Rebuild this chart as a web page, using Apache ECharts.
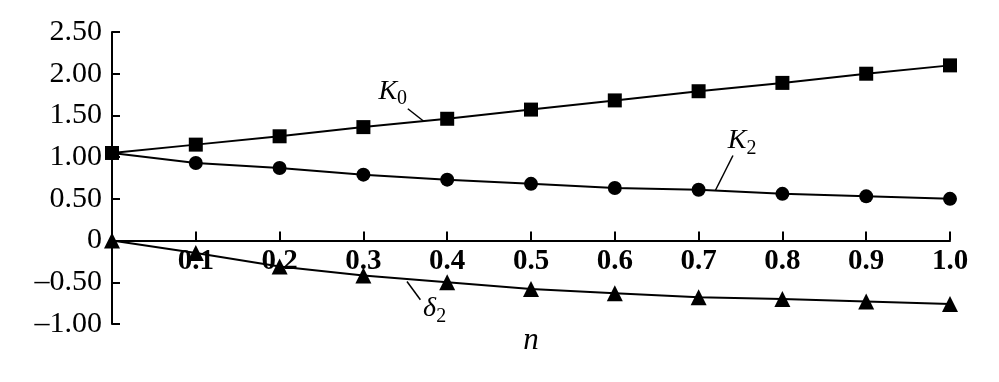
<!DOCTYPE html>
<html><head><meta charset="utf-8">
<script src="https://cdn.jsdelivr.net/npm/echarts@6/dist/echarts.min.js"></script>
<style>html,body{margin:0;padding:0;background:#fff}#c{width:999px;height:382px}</style>
</head><body><div id="c"></div>
<script>
const nValues = [0, 0.1, 0.2, 0.3, 0.4, 0.5, 0.6, 0.7, 0.8, 0.9, 1.0];
const K0 = [1.05, 1.15, 1.25, 1.36, 1.46, 1.57, 1.68, 1.79, 1.89, 2.00, 2.10];
const K2 = [1.05, 0.93, 0.87, 0.79, 0.73, 0.68, 0.63, 0.61, 0.56, 0.53, 0.50];
const delta2 = [0, -0.15, -0.31, -0.42, -0.50, -0.58, -0.63, -0.68, -0.70, -0.73, -0.76];
// annotation anchors (data coords): [labelX, labelY, lineStartX, lineStartY, lineEndX, lineEndY]
const annK0 = [0.335, 1.79, 0.353, 1.58, 0.372, 1.43];
const annK2 = [0.752, 1.20, 0.741, 1.02, 0.72, 0.60];
const annD2 = [0.385, -0.82, 0.352, -0.49, 0.368, -0.71];

const FONT = 'Liberation Serif';
const Y_MIN = -1, Y_MAX = 2.5;
const GRID = {left: 112, right: 49, top: 32, bottom: 58};
const chart = echarts.init(document.getElementById('c'), null, {renderer: 'canvas'});
const plotH = 382 - GRID.top - GRID.bottom;
const zeroOffset = -plotH * (0 - Y_MIN) / (Y_MAX - Y_MIN);

function pairs(xs, ys) { return xs.map((x, i) => [x, ys[i]]); }

function annotation(a, name, sub) {
  return {
    markPoint: {
      symbol: 'circle',
      symbolSize: 1,
      silent: true,
      itemStyle: {color: 'rgba(0,0,0,0)'},
      data: [{
        coord: [a[0], a[1]],
        label: {
          show: true,
          position: 'inside',
          formatter: '{i|' + name + '}{s|' + sub + '}',
          rich: {
            i: {fontFamily: FONT, fontStyle: 'italic', fontSize: 28, color: '#000'},
            s: {fontFamily: FONT, fontSize: 20, color: '#000', padding: [16, 0, 0, 0]}
          }
        }
      }]
    },
    markLine: {
      symbol: ['none', 'none'],
      silent: true,
      label: {show: false},
      lineStyle: {color: '#000', width: 1.5, type: 'solid'},
      data: [[{coord: [a[2], a[3]]}, {coord: [a[4], a[5]]}]]
    }
  };
}

function series(data, sym, size, ann, name, sub) {
  return Object.assign({
    type: 'line',
    data: pairs(nValues, data),
    symbol: sym,
    symbolSize: size,
    showAllSymbol: true,
    lineStyle: {color: '#000', width: 2},
    itemStyle: {color: '#000'},
    z: 3
  }, annotation(ann, name, sub));
}

chart.setOption({
  animation: false,
  backgroundColor: '#fff',
  grid: Object.assign({containLabel: false, outerBoundsMode: 'none'}, GRID),
  xAxis: {
    type: 'value', min: 0, max: 1, interval: 0.1,
    position: 'bottom', offset: zeroOffset,
    name: 'n', nameLocation: 'middle', nameGap: 85,
    nameTextStyle: {fontFamily: FONT, fontStyle: 'italic', fontSize: 31, color: '#000'},
    axisLine: {onZero: false, lineStyle: {color: '#000', width: 2}},
    axisTick: {show: true, inside: true, length: 9, lineStyle: {color: '#000', width: 2}},
    splitLine: {show: false},
    axisLabel: {
      fontFamily: FONT, fontSize: 29, fontWeight: 'bold', color: '#000', margin: 6,
      formatter: v => (Math.abs(v) < 1e-9 ? '' : v.toFixed(1))
    }
  },
  yAxis: {
    type: 'value', min: Y_MIN, max: Y_MAX, interval: 0.5,
    axisLine: {show: true, onZero: false, lineStyle: {color: '#000', width: 2}},
    axisTick: {show: true, inside: true, length: 8, lineStyle: {color: '#000', width: 2}},
    splitLine: {show: false},
    axisLabel: {
      fontFamily: FONT, fontSize: 30, color: '#000', margin: 10,
      formatter: v => {
        if (Math.abs(v) < 1e-9) return '0';
        const s = Math.abs(v).toFixed(2);
        return v < 0 ? '\u2013' + s : s;
      }
    }
  },
  series: [
    series(K0, 'rect', 14, annK0, 'K', '0'),
    series(K2, 'circle', 14, annK2, 'K', '2'),
    series(delta2, 'triangle', 16, annD2, '\u03b4', '2')
  ]
});
</script>
</body></html>
